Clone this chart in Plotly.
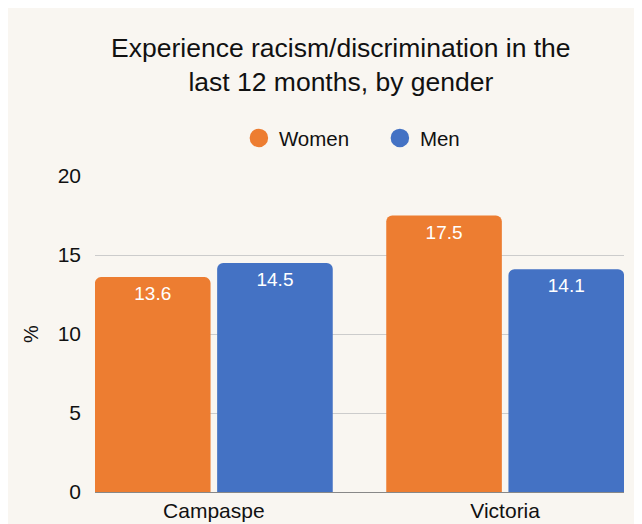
import plotly.graph_objects as go

categories = ["Campaspe", "Victoria"]
women = [13.6, 17.5]
men = [14.5, 14.1]
series_names = ["Women", "Men"]
colors = ["#ed7d31", "#4472c4"]
title_text = "Experience racism/discrimination in the<br>last 12 months, by gender"
y_ticks = [0, 5, 10, 15, 20]

FONT = "Liberation Sans, Arial, sans-serif"

fig = go.Figure()
for name, vals, col in zip(series_names, [women, men], colors):
    fig.add_trace(go.Bar(
        x=categories, y=vals, name=name, marker=dict(color=col, cornerradius=6, line=dict(width=0)),
        text=[f"{v:.1f}" for v in vals], textposition="inside", insidetextanchor="end",
        textfont=dict(color="white", size=19, family=FONT), showlegend=False,
        hoverinfo="skip",
    ))
    fig.add_trace(go.Scatter(
        x=[None], y=[None], mode="markers", name=name,
        marker=dict(color=col, size=16, symbol="circle", line=dict(color=col, width=2.5)),
        showlegend=True,
    ))

fig.update_layout(
    width=634, height=516,
    paper_bgcolor="#f9f6f1", plot_bgcolor="#f9f6f1",
    margin=dict(l=87, r=18, t=168, b=32, autoexpand=False),
    barmode="group", bargap=0.161, bargroupgap=0.054,
    font=dict(family=FONT, color="#222222", size=20),
    title=dict(text=title_text, x=0.525, xanchor="center", y=0.906, yanchor="middle",
               font=dict(size=26.5, color="#111111", family=FONT)),
    legend=dict(orientation="h", x=0.272, xanchor="left", y=1.12, yanchor="middle",
                font=dict(size=20.5, color="#111111"), bgcolor="rgba(0,0,0,0)",
                itemsizing="trace", entrywidth=96, entrywidthmode="pixels"),
    xaxis=dict(range=[-0.408, 1.408], showline=True, linecolor="#888888", linewidth=1,
               automargin=False, showgrid=False, ticks="", tickfont=dict(size=21, color="#111111")),
    yaxis=dict(range=[0, 20], tickvals=y_ticks, showgrid=True, gridcolor="#cccccc", gridwidth=1,
               automargin=False, zeroline=False, ticks="", ticklabelstandoff=13,
               tickfont=dict(size=21, color="#111111"),
               title=dict(text="%", font=dict(size=20, color="#111111"), standoff=13)),
)

fig.write_html("out.html")
